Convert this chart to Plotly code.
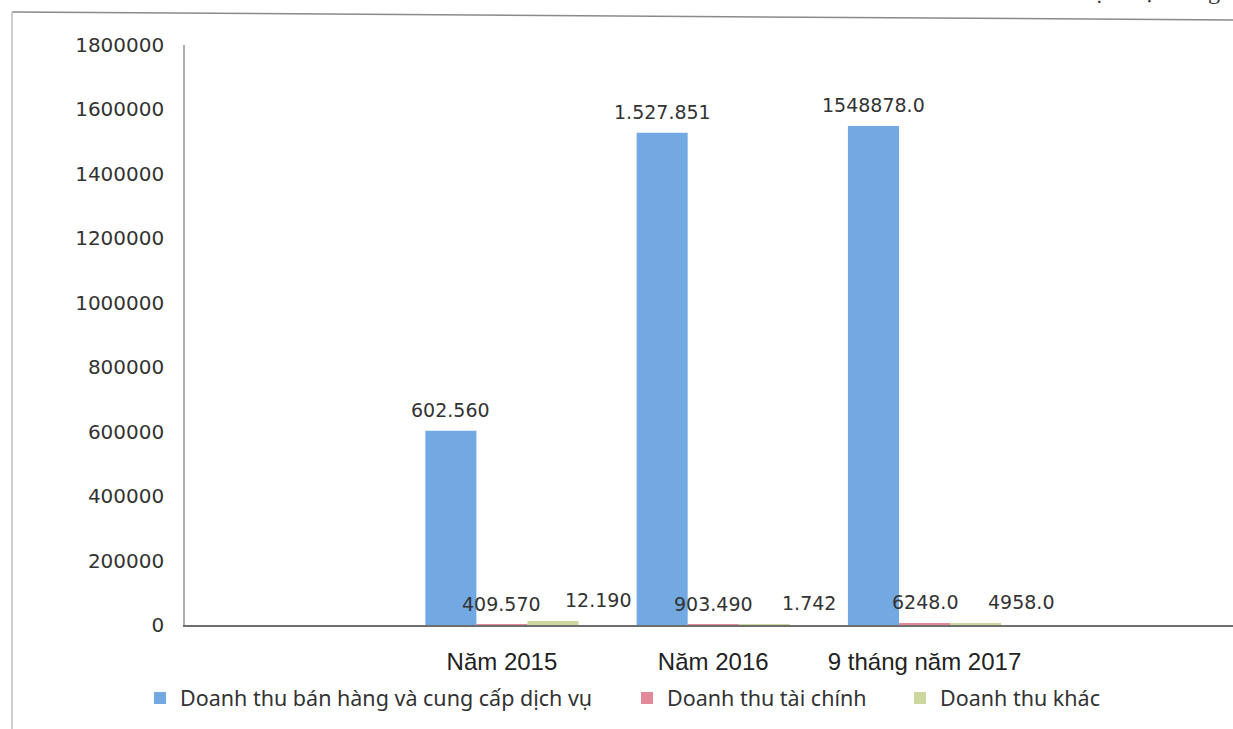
import plotly.graph_objects as go

categories = ["Năm 2015", "Năm 2016", "9 tháng năm 2017"]
series_names = ["Doanh thu bán hàng và cung cấp dịch vụ", "Doanh thu tài chính", "Doanh thu khác"]
sales_values = [602560, 1527851, 1548878]
finance_values = [409.57, 903.49, 6248.0]
other_values = [12190, 1742, 4958]
sales_labels = ["602.560", "1.527.851", "1548878.0"]
finance_labels = ["409.570", "903.490", "6248.0"]
other_labels = ["12.190", "1.742", "4958.0"]
y_ticks = [0, 200000, 400000, 600000, 800000, 1000000, 1200000, 1400000, 1600000, 1800000]
unit_text = "Đơn vị: Triệu đồng"

colors = ["#72A9E3", "#E3899A", "#CCD79E"]

# pixel geometry helpers
W, H = 1233, 729
L, R, T, B = 185, 0, 45, 104
PW = W - L - R
PH = H - T - B

def px_x(p):
    return (p - L) / PW

def px_y(p):
    return (H - B - p) / PH

fig = go.Figure()
all_vals = [sales_values, finance_values, other_values]
all_labels = [sales_labels, finance_labels, other_labels]
legends = ["legend", "legend2", "legend3"]
for name, vals, col, lg in zip(series_names, all_vals, colors, legends):
    fig.add_trace(go.Bar(x=categories, y=vals, name=name, marker_color=col,
                         marker_line_width=0, legend=lg, hoverinfo="x+y+name"))

# data labels (label offsets as in the original chart)
shifts = [-51, 0, 96]
for vals, labs, sh in zip(all_vals, all_labels, shifts):
    for c, v, t in zip(categories, vals, labs):
        fig.add_annotation(x=c, y=v, text=t, showarrow=False, xref="x", yref="y",
                           xshift=sh, yshift=8, yanchor="bottom", xanchor="center",
                           font=dict(family="DejaVu Sans", size=19, color="#333333"))

# unit note (cut at top of scan)
fig.add_annotation(x=px_x(1222), y=px_y(-9), xref="paper", yref="paper", text=unit_text,
                   showarrow=False, xanchor="right", yanchor="middle",
                   font=dict(family="Liberation Serif", size=24, color="#333333"))

# frame of the scanned chart
fig.add_shape(type="line", xref="paper", yref="paper", x0=px_x(12), y0=px_y(12), x1=px_x(1233), y1=px_y(20),
              line=dict(color="#8a8a8a", width=1.5))
fig.add_shape(type="line", xref="paper", yref="paper", x0=px_x(12), y0=px_y(12), x1=px_x(12), y1=px_y(729),
              line=dict(color="#bdbdbd", width=1.5))

leg_common = dict(orientation="h", yref="paper", xref="paper", y=px_y(698), yanchor="middle",
                  xanchor="left", bgcolor="rgba(0,0,0,0)",
                  font=dict(family="Noto Sans", size=21.5, color="#333333"))

fig.update_layout(
    width=W, height=H,
    margin=dict(l=L, r=R, t=T, b=B),
    paper_bgcolor="white", plot_bgcolor="white",
    barmode="group", bargap=0.275, bargroupgap=0,
    showlegend=True,
    legend=dict(x=px_x(140), **leg_common),
    legend2=dict(x=px_x(627), **leg_common),
    legend3=dict(x=px_x(900), **leg_common),
    xaxis=dict(type="category", range=[-1.5, 3.46], showline=True, linecolor="#6e6e6e", linewidth=2,
               showgrid=False, ticks="", ticklabelstandoff=14,
               tickfont=dict(family="Liberation Sans", size=24, color="#222222")),
    yaxis=dict(range=[0, 1800000], tickvals=y_ticks, tickformat="d", showline=True,
               linecolor="#b0b0b0", linewidth=1.5, showgrid=False, zeroline=False, ticks="",
               ticklabelstandoff=15,
               tickfont=dict(family="DejaVu Sans", size=20, color="#333333")),
)

fig.write_html("out.html")
